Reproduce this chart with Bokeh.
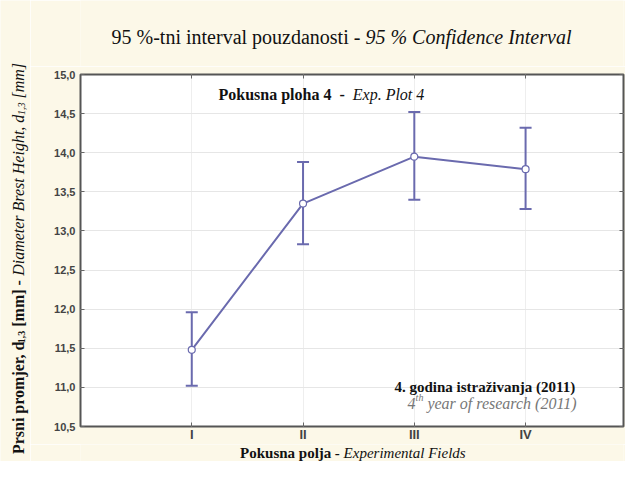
import math
from bokeh.plotting import figure
from bokeh.layouts import row, column
from bokeh.models import Label, ColumnDataSource, Range1d, Whisker, TeeHead, LinearAxis, FixedTicker
from bokeh.embed import file_html
from bokeh.resources import INLINE

# ---------------- data ----------------
fields = ["I", "II", "III", "IV"]
field_pos = [1, 2, 3, 4]
means = [11.48, 13.35, 13.95, 13.79]
upper = [11.96, 13.88, 14.52, 14.32]
lower = [11.02, 12.83, 13.40, 13.28]
y_ticks = [10.5, 11.0, 11.5, 12.0, 12.5, 13.0, 13.5, 14.0, 14.5, 15.0]
y_tick_labels = ["10,5", "11,0", "11,5", "12,0", "12,5", "13,0", "13,5", "14,0", "14,5", "15,0"]

BG = "#fcf8e8"
LINE = "#6a6aae"
INK = "#111111"
SERIF = "Liberation Serif"
SANS = "Liberation Sans"

# approximate Times widths (per 1000 em)
_W = {' ': 250, '%': 833, '(': 333, ')': 333, ',': 250, '-': 333, '.': 250, '[': 333, ']': 333,
      'a': 444, 'b': 500, 'c': 444, 'd': 500, 'e': 444, 'f': 333, 'g': 500, 'h': 500, 'i': 278,
      'j': 278, 'k': 500, 'l': 278, 'm': 778, 'n': 500, 'o': 500, 'p': 500, 'q': 500, 'r': 333,
      's': 389, 't': 278, 'u': 500, 'v': 500, 'w': 722, 'x': 500, 'y': 500, 'z': 444, 'ž': 444,
      'B': 667, 'C': 667, 'D': 722, 'E': 611, 'F': 556, 'H': 722, 'I': 333, 'P': 556}


def tw(s, size, style):
    w = 0
    for ch in s:
        v = _W.get(ch, 500)
        if style == "bold" and ch.isalpha():
            v *= 1.08
        w += v
    return w * size / 1000.0


def rich(p, segs, x, y, angle=0.0, align="left"):
    total = sum(tw(t, sz, st) for t, st, sz, sh, col in segs)
    off = 0.0 if align == "left" else (-total / 2 if align == "center" else -total)
    for t, st, sz, sh, col in segs:
        lead = len(t) - len(t.lstrip(" "))
        pos = off + tw(" " * lead, sz, st)
        if angle == 0:
            xo, yo = pos, -sh
        else:
            xo, yo = sh, pos
        if t.strip():
            p.add_layout(Label(x=x, y=y, x_offset=xo, y_offset=yo, text=t.strip(), angle=angle,
                               text_font=SERIF, text_font_style=st, text_font_size=f"{sz}px",
                               text_align="left", text_baseline="alphabetic", text_color=col))
        off += tw(t, sz, st)


def text_panel(w, h):
    f = figure(width=w, height=h, output_backend="svg", toolbar_location=None,
               x_range=Range1d(0, w), y_range=Range1d(0, h),
               x_axis_type=None, y_axis_type=None, min_border=0)
    f.background_fill_color = BG
    f.border_fill_color = BG
    f.outline_line_color = None
    return f


# ---------------- main plot ----------------
p = figure(width=595, height=378, output_backend="svg", toolbar_location=None,
           x_range=Range1d(0, 4.88), y_range=Range1d(10.5, 15.0),
           min_border_left=50, min_border_right=2, min_border_top=8, min_border_bottom=18)
p.background_fill_color = "white"
p.border_fill_color = BG
p.outline_line_color = "#555555"
p.outline_line_width = 2

src = ColumnDataSource(dict(x=field_pos, mean=means, upper=upper, lower=lower))

p.xgrid.ticker = FixedTicker(ticks=field_pos)
p.ygrid.ticker = FixedTicker(ticks=y_ticks)
p.xgrid.grid_line_color = "#eeeeee"
p.ygrid.grid_line_color = "#e6e6e6"

p.xaxis.ticker = FixedTicker(ticks=field_pos)
p.xaxis.major_label_overrides = {k: v for k, v in zip(field_pos, fields)}
p.yaxis.ticker = FixedTicker(ticks=y_ticks)
p.yaxis.major_label_overrides = {k: v for k, v in zip(y_ticks, y_tick_labels)}
for ax in (p.xaxis[0], p.yaxis[0]):
    ax.axis_line_color = None
    ax.major_tick_in = 4
    ax.major_tick_out = 0
    ax.major_tick_line_color = "#666666"
    ax.minor_tick_line_color = None
    ax.major_label_text_font = SANS
    ax.major_label_text_font_style = "bold"
    ax.major_label_text_color = "#444444"
p.yaxis.major_label_text_font_size = "11px"
p.yaxis.major_label_standoff = 5
p.xaxis.major_label_text_font_size = "13px"
p.xaxis.major_label_standoff = 0

top_ax = LinearAxis(ticker=FixedTicker(ticks=field_pos), axis_line_color=None,
                    major_tick_in=4, major_tick_out=0, major_tick_line_color="#666666",
                    minor_tick_line_color=None, major_label_standoff=0,
                    major_label_overrides={k: "" for k in field_pos},
                    major_label_text_font_size="1px")
p.add_layout(top_ax, "above")
right_ax = LinearAxis(ticker=FixedTicker(ticks=y_ticks), axis_line_color=None,
                      major_tick_in=4, major_tick_out=0, major_tick_line_color="#666666",
                      minor_tick_line_color=None, major_label_standoff=0,
                      major_label_overrides={k: "" for k in y_ticks},
                      major_label_text_font_size="1px")
p.add_layout(right_ax, "right")

p.add_layout(Whisker(source=src, base="x", upper="upper", lower="lower",
                     line_color=LINE, line_width=2,
                     upper_head=TeeHead(size=12, line_color=LINE, line_width=2),
                     lower_head=TeeHead(size=12, line_color=LINE, line_width=2)))
p.line("x", "mean", source=src, line_color=LINE, line_width=2)
p.scatter("x", "mean", source=src, size=7, fill_color="white", line_color=LINE, line_width=1.2)

rich(p, [("Pokusna ploha 4", "bold", 16, 0, INK), ("  -  ", "bold", 16, 0, INK),
         ("Exp. Plot 4", "italic", 16, 0, INK)], 1.24, 14.74)
rich(p, [("4. godina istraživanja (2011)", "bold", 15, 0, INK)], 4.45, 11.01, align="right")
rich(p, [("4", "italic", 16, 0, "#777777"), ("th", "italic", 10, -6, "#777777"),
         (" year of research (2011)", "italic", 16, 0, "#777777")], 4.455, 10.80, align="right")

# ---------------- outer text panels ----------------
top = text_panel(595, 66)
rich(top, [("95 %-tni interval pouzdanosti - ", "normal", 20, 0, INK),
           ("95 % Confidence Interval", "italic", 20, 0, INK)], 286, 30, align="center")

bottom = text_panel(595, 17)
rich(bottom, [("Pokusna polja", "bold", 15, 0, INK), (" - ", "bold", 15, 0, INK),
              ("Experimental Fields", "italic", 15, 0, INK)], 298, 9, align="center")

left = text_panel(30, 461)
rich(left, [("Prsni promjer, d", "bold", 16, 0, INK), ("1,3", "bold", 10, 3, INK),
            (" [mm] - ", "bold", 16, 0, INK),
            ("Diameter Brest Height, d", "italic", 16, 0, INK), ("1,3", "italic", 10, 3, INK),
            (" [mm]", "italic", 16, 0, INK)],
     18, 203, angle=math.pi / 2, align="center")

layout = row(left, column(top, p, bottom))
open("out.html", "w").write(file_html(layout, INLINE))
